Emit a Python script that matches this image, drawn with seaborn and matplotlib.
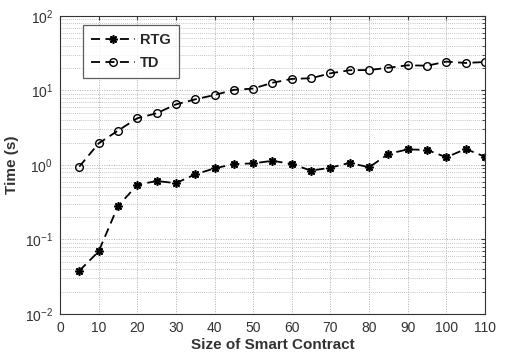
import matplotlib
matplotlib.use("Agg")
import matplotlib.pyplot as plt
import seaborn as sns
import pandas as pd
import numpy as np
from matplotlib.ticker import LogLocator, NullFormatter, FixedLocator

sizes = [5, 10, 15, 20, 25, 30, 35, 40, 45, 50, 55, 60, 65, 70, 75, 80, 85, 90, 95, 100, 105, 110]
rtg = [0.038, 0.069, 0.28, 0.54, 0.61, 0.57, 0.75, 0.90, 1.03, 1.05, 1.14, 1.03, 0.84, 0.92, 1.07, 0.93,
       1.41, 1.62, 1.59, 1.27, 1.64, 1.29]
td = [0.95, 1.95, 2.89, 4.24, 4.94, 6.5, 7.6, 8.7, 10.2, 10.6, 12.7, 14.3, 14.6, 17.0, 18.7, 18.8,
      20.2, 21.8, 21.5, 24.4, 23.4, 24.1]
x_ticks = [0, 10, 20, 30, 40, 50, 60, 70, 80, 90, 100, 110]

sns.set_style("white")
plt.rcParams['font.family'] = ['Liberation Sans', 'DejaVu Sans']
plt.rcParams['mathtext.fontset'] = 'custom'
plt.rcParams['mathtext.rm'] = 'Liberation Sans'
plt.rcParams['mathtext.it'] = 'Liberation Sans:italic'
plt.rcParams['mathtext.bf'] = 'Liberation Sans:bold'

fig = plt.figure(figsize=(5.05, 3.63), dpi=100)
ax = fig.add_axes([0.1188, 0.135, 0.8416, 0.821])

df_rtg = pd.DataFrame({"x": sizes, "y": rtg})
df_td = pd.DataFrame({"x": sizes, "y": td})

sns.lineplot(data=df_rtg, x="x", y="y", ax=ax, color="black", linestyle=(0, (5, 3)), linewidth=1.3,
             marker=(8, 2, 0), markersize=6, markeredgewidth=1.2, markeredgecolor="black",
             label="RTG")
sns.lineplot(data=df_td, x="x", y="y", ax=ax, color="black", linestyle=(0, (5, 3)), linewidth=1.3,
             marker="o", markersize=5.5, markerfacecolor="none", markeredgewidth=1.0,
             markeredgecolor="black", label="TD")

ax.set_yscale("log")
ax.set_ylim(1e-2, 1e2)
ax.set_xlim(0, 110)
ax.xaxis.set_major_locator(FixedLocator(x_ticks))
ax.yaxis.set_major_locator(LogLocator(base=10, numticks=10))
ax.yaxis.set_minor_locator(LogLocator(base=10, subs=np.arange(2, 10), numticks=20))
ax.yaxis.set_minor_formatter(NullFormatter())

ax.grid(True, which="major", color="#b0b0b0", linestyle=(0, (1, 1.5)), linewidth=0.7)
ax.grid(True, which="minor", axis="y", color="#b0b0b0", linestyle=(0, (1, 1.5)), linewidth=0.6)

for s in ax.spines.values():
    s.set_color("#333333")
    s.set_linewidth(0.8)
    s.set_visible(True)

ax.tick_params(axis="both", which="both", direction="in", top=True, right=True,
               length=3, colors="#333333", labelsize=10, labelcolor="#333333")
ax.tick_params(axis="both", which="minor", length=2)
ax.tick_params(axis="both", which="major", pad=5)

ax.set_xlabel("Size of Smart Contract", fontsize=11, fontweight="bold", color="#333333", labelpad=2)
ax.set_ylabel("Time (s)", fontsize=11, fontweight="bold", color="#333333", labelpad=4)

leg = ax.legend(loc="upper left", bbox_to_anchor=(0.054, 0.97), borderaxespad=0, frameon=True,
                fancybox=False, edgecolor="#333333", fontsize=10.5, handlelength=3.0, borderpad=0.55,
                labelspacing=0.6, handletextpad=0.35)
leg.get_frame().set_linewidth(0.9)
for t in leg.get_texts():
    t.set_fontweight("bold")

fig.savefig("out.png", dpi=100)
